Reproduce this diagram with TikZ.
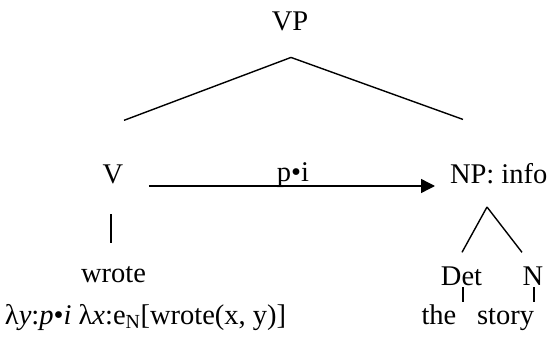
\documentclass[tikz,border=0pt]{standalone}
\usepackage{fontspec}
\setmainfont{Liberation Serif}
\usetikzlibrary{arrows.meta,calc}
\begin{document}
\begin{tikzpicture}[x=1pt,y=-1pt,
  word/.style={inner sep=0pt, outer sep=0pt, font=\fontsize{28.5}{34}\selectfont},
  branch/.style={line width=1.4pt},
  arc/.style={line width=1.4pt, -{Triangle[length=14pt,width=14pt]}}]
\useasboundingbox (0,0) rectangle (552,345);
% tree labels
\node[word, anchor=base] (vp) at (290,31) {VP};
\node[word, anchor=base] (v) at (113,183) {V};
\node[word, anchor=base] (pi) at (293,181) {p•i};
\node[word, anchor=base west] (np) at (450,183) {NP: info};
\node[word, anchor=base] (wrote) at (113.5,282) {wrote};
\node[word, anchor=base] (det) at (461.5,285) {Det};
\node[word, anchor=base] (n) at (533,285) {N};
\node[word, anchor=base west] (the) at (421.5,324) {the};
\node[word, anchor=base west] (story) at (477,324) {story};
\node[word, anchor=base west] (sem) at (5,324)
  {λ\textit{y}:\textit{p}•\textit{i} λ\textit{x}:e\textsubscript{N}[wrote(x, y)]};
% VP branches
\draw[branch] ($(vp.south)+(1,26)$) -- ($(v.north)+(11,-44)$);
\draw[branch] ($(vp.south)+(1,26)$) -- ($(np.north west)+(13,-43.5)$);
% type coercion arrow
\draw[arc] ($(v.base east)+(25.7,3)$) -- ($(np.base west)+(-15,3)$);
% V to lexical item
\draw[branch] ($(v.base)+(-2,31)$) -- ($(wrote.north)+(-2.5,-22.5)$);
% NP branches
\draw[branch] ($(np.base west)+(37,24)$) -- ($(det.north)+(0.5,-14)$);
\draw[branch] ($(np.base west)+(37,24)$) -- ($(n.north)+(-11,-14)$);
% terminal ticks
\draw[branch] ($(det.base)+(1.5,2)$) -- ($(det.base |- the.north)+(1.5,-2.5)$);
\draw[branch] ($(n.base)+(1,2)$) -- ($(n.base |- the.north)+(1,-2.5)$);
\end{tikzpicture}
\end{document}
